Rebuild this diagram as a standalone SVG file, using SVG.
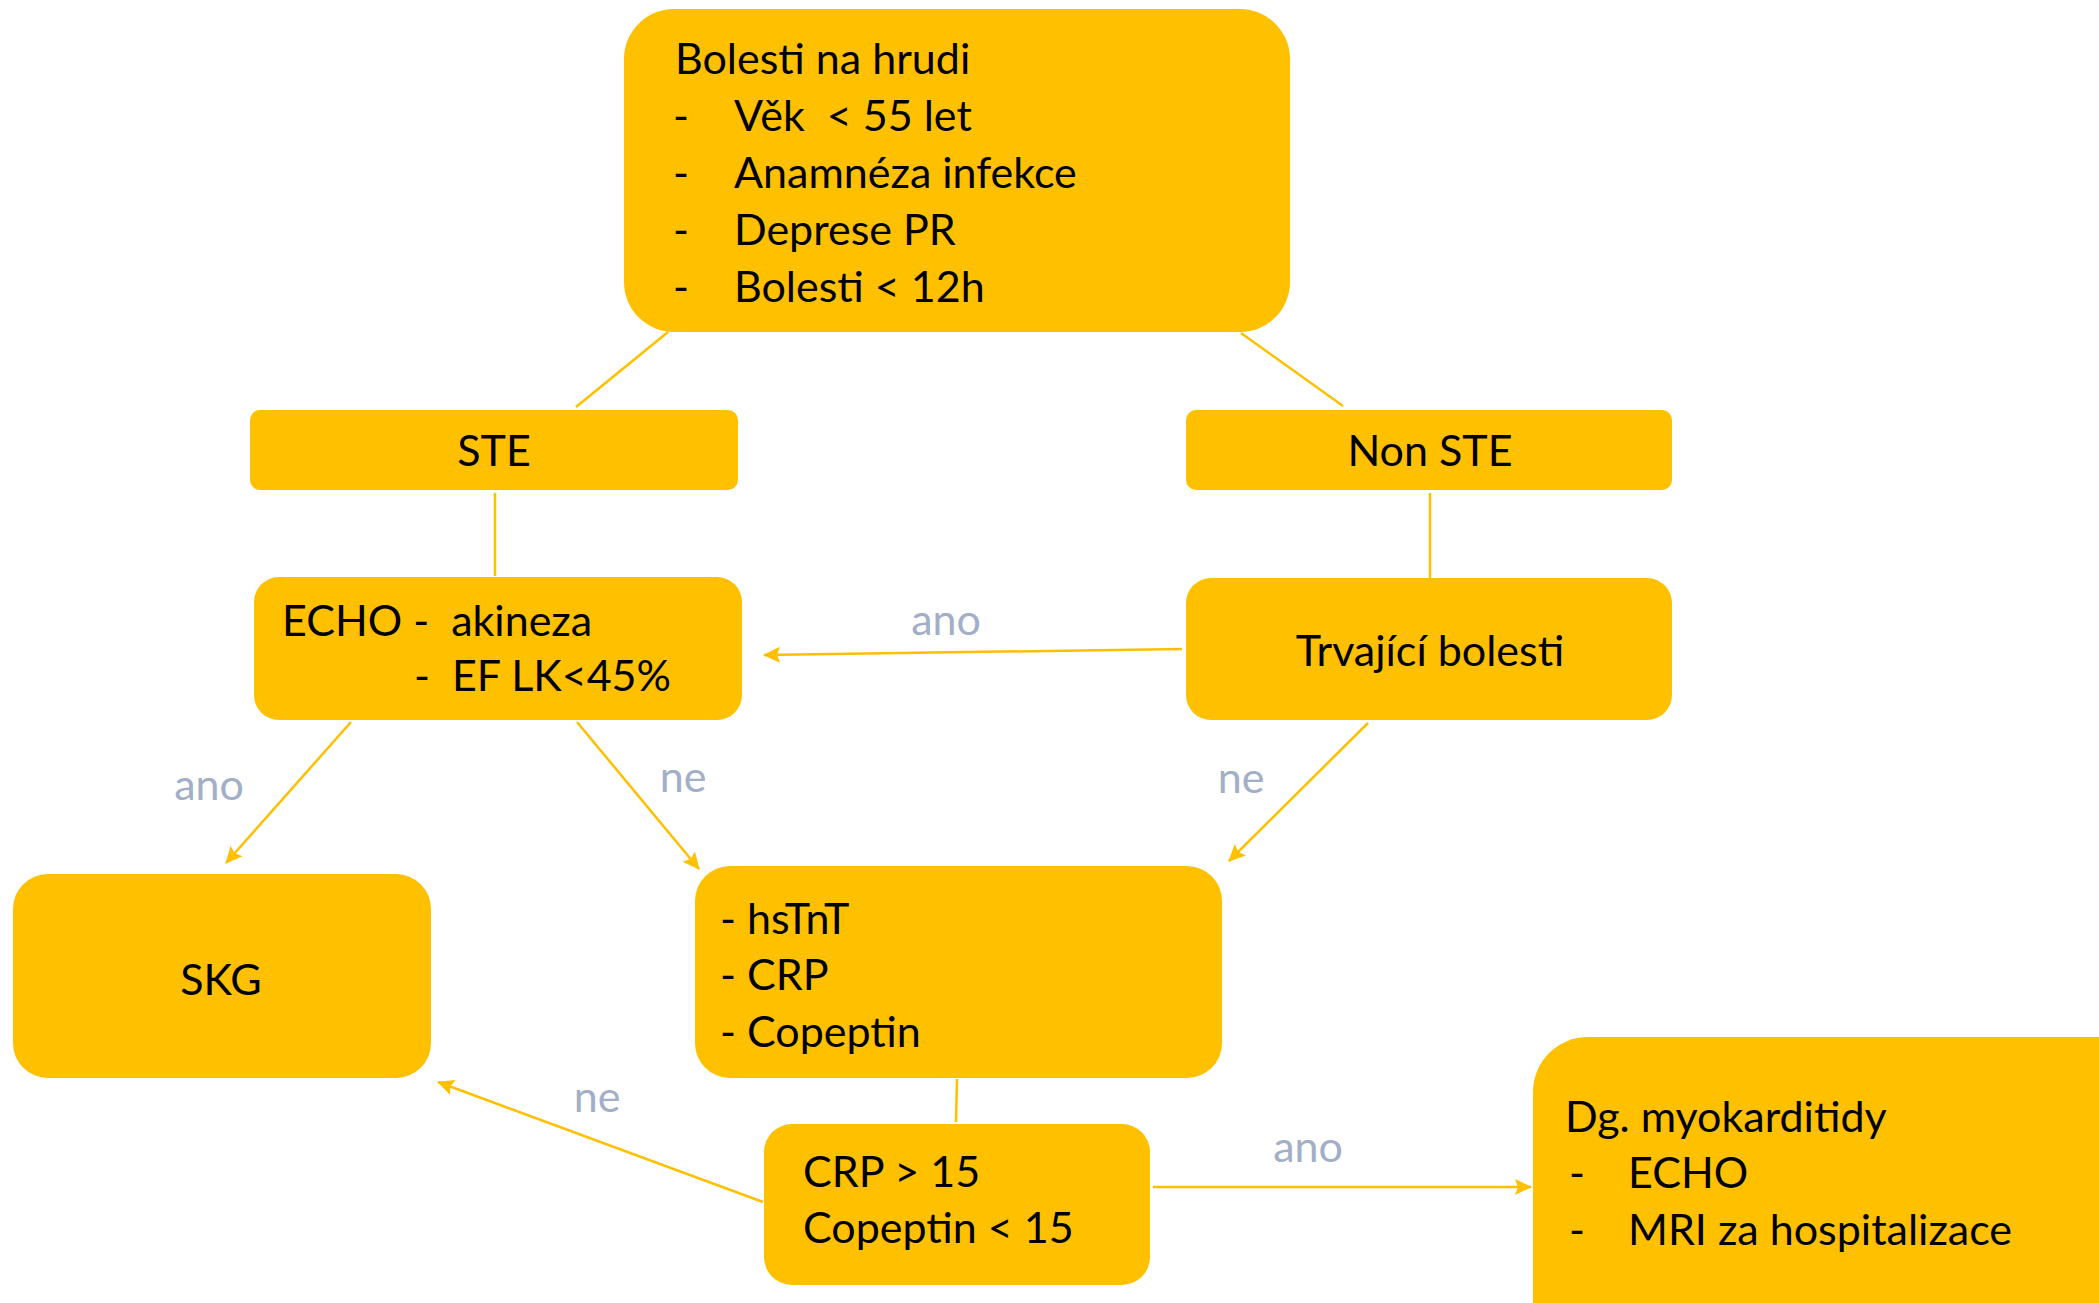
<svg xmlns="http://www.w3.org/2000/svg" width="2099" height="1303" viewBox="0 0 2099 1303">
<style>
.box{fill:#FFC000;}
.t{font-family:Lato,"Liberation Sans",sans-serif;font-size:43px;fill:#000;}
.c{text-anchor:middle;}
.lbl{font-family:Lato,"Liberation Sans",sans-serif;font-size:43px;fill:#A2AFC6;text-anchor:middle;}
.ln{stroke:#FFC000;stroke-width:2.5;fill:none;}
.ar{marker-end:url(#ah);}
</style>
<defs>
<marker id="ah" markerUnits="userSpaceOnUse" markerWidth="18" markerHeight="18" refX="16" refY="8" orient="auto" viewBox="0 0 18 16">
<path d="M0,0 L17,8 L0,16 L3,8 z" fill="#FFC000"/>
</marker>
</defs>
<rect width="2099" height="1303" fill="#fff"/>
<g id="connectors">
<line class="ln" x1="668" y1="332" x2="576" y2="407"/>
<line class="ln" x1="1241" y1="333" x2="1343" y2="406"/>
<line class="ln" x1="495" y1="493" x2="495" y2="576"/>
<line class="ln" x1="1430" y1="493" x2="1430" y2="578"/>
<line class="ln ar" x1="1182" y1="649" x2="764" y2="655"/>
<line class="ln ar" x1="351" y1="722" x2="226" y2="863"/>
<line class="ln ar" x1="577" y1="722" x2="699" y2="869"/>
<line class="ln ar" x1="1368" y1="723" x2="1229" y2="861"/>
<line class="ln" x1="957" y1="1079" x2="956" y2="1122"/>
<line class="ln ar" x1="763" y1="1202" x2="438" y2="1082"/>
<line class="ln ar" x1="1153" y1="1187" x2="1531" y2="1187"/>
<text class="lbl" x="946" y="635">ano</text>
<text class="lbl" x="209" y="800">ano</text>
<text class="lbl" x="683" y="792">ne</text>
<text class="lbl" x="1241" y="793">ne</text>
<text class="lbl" x="597" y="1112">ne</text>
<text class="lbl" x="1308" y="1162">ano</text>
</g>
<g id="n-top">
<rect class="box" x="624" y="9" width="666" height="323" rx="50"/>
<text class="t" x="675" y="74">Bolesti na hrudi</text>
<text class="t" x="673" y="131">-</text><text class="t" x="734" y="131" xml:space="preserve">Věk  &lt; 55 let</text>
<text class="t" x="673" y="188">-</text><text class="t" x="734" y="188">Anamnéza infekce</text>
<text class="t" x="673" y="245">-</text><text class="t" x="734" y="245">Deprese PR</text>
<text class="t" x="673" y="302">-</text><text class="t" x="734" y="302">Bolesti &lt; 12h</text>
</g>
<g id="n-ste">
<rect class="box" x="250" y="410" width="488" height="80" rx="10"/>
<text class="t c" x="494" y="466">STE</text>
</g>
<g id="n-nonste">
<rect class="box" x="1186" y="410" width="486" height="80" rx="10"/>
<text class="t c" x="1430" y="466">Non STE</text>
</g>
<g id="n-echo">
<rect class="box" x="254" y="577" width="488" height="143" rx="25"/>
<text class="t" x="282" y="636" xml:space="preserve">ECHO -  akineza</text>
<text class="t" x="414" y="691" xml:space="preserve">-  EF LK&lt;45%</text>
</g>
<g id="n-trv">
<rect class="box" x="1186" y="578" width="486" height="142" rx="25"/>
<text class="t c" x="1430" y="666">Trvající bolesti</text>
</g>
<g id="n-skg">
<rect class="box" x="13" y="874" width="418" height="204" rx="35"/>
<text class="t c" x="221" y="995">SKG</text>
</g>
<g id="n-lab">
<rect class="box" x="695" y="866" width="527" height="212" rx="35"/>
<text class="t" x="720" y="934">- hsTnT</text>
<text class="t" x="720" y="990">- CRP</text>
<text class="t" x="720" y="1047">- Copeptin</text>
</g>
<g id="n-crp">
<rect class="box" x="764" y="1124" width="386" height="161" rx="28"/>
<text class="t" x="803" y="1187">CRP &gt; 15</text>
<text class="t" x="803" y="1243">Copeptin &lt; 15</text>
</g>
<g id="n-dg">
<rect class="box" x="1533" y="1037" width="620" height="330" rx="55"/>
<text class="t" x="1565" y="1132">Dg. myokarditidy</text>
<text class="t" x="1569" y="1188">-</text><text class="t" x="1628" y="1188">ECHO</text>
<text class="t" x="1569" y="1245">-</text><text class="t" x="1628" y="1245">MRI za hospitalizace</text>
</g>
</svg>
